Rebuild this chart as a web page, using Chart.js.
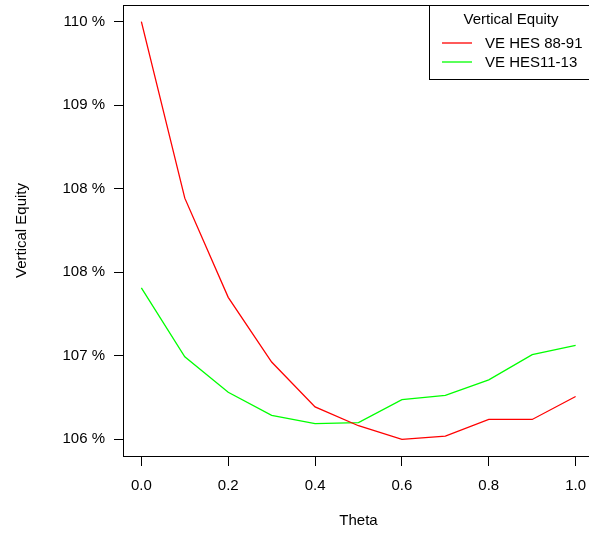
<!DOCTYPE html>
<html>
<head>
<meta charset="utf-8">
<script src="https://cdn.jsdelivr.net/npm/chart.js@4"></script>
<style>
html,body{margin:0;padding:0;overflow:hidden;background:#fff}
</style>
</head>
<body>
<canvas id="chart" width="593" height="535"></canvas>
<script>
const theta = [0.0,0.1,0.2,0.3,0.4,0.5,0.6,0.7,0.8,0.9,1.0]
const ve8891 = [1.1000,1.0831,1.0736,1.0674,1.0631,1.0613,1.0600,1.0603,1.0619,1.0619,1.0641]
const ve1113 = [1.0745,1.0679,1.0645,1.0623,1.0615,1.0616,1.0638,1.0642,1.0657,1.0681,1.0690]
const seriesNames = ['VE HES 88-91','VE HES11-13']
const seriesColors = ['#ff0000','#00ff00']
const yTicks = [1.06,1.068,1.076,1.084,1.092,1.10]
const yTickLabels = ['106 %','107 %','108 %','108 %','109 %','110 %']
const xTicks = [0,0.2,0.4,0.6,0.8,1.0]
const xTickLabels = ['0.0','0.2','0.4','0.6','0.8','1.0']
const legendTitle = 'Vertical Equity'

const FONT = 'Liberation Sans, Arial, sans-serif'
function pts(ys){ return theta.map((t,i)=>({x:t,y:ys[i]})) }

// R style box around plot + legend box
const boxPlugin = {
  id:'rbox',
  afterDraw(chart){
    const {ctx, chartArea:a} = chart
    ctx.save()
    ctx.strokeStyle = '#000'; ctx.lineWidth = 1
    ctx.strokeRect(Math.round(a.left)-0.5, Math.round(a.top)+0.5, Math.round(a.right-a.left)+1, Math.round(a.bottom-a.top))
    // legend
    const lx = 429.5, ly = Math.round(a.top)+0.5, lb = 79.5
    ctx.fillStyle = '#fff'
    ctx.fillRect(lx, ly, 700, lb-ly)
    ctx.strokeRect(lx, ly, 700, lb-ly)
    ctx.fillStyle = '#000'
    ctx.font = '15px ' + FONT
    ctx.textBaseline = 'middle'
    ctx.textAlign = 'center'
    ctx.fillText(legendTitle, 511, 20)
    ctx.textAlign = 'left'
    chart.data.datasets.forEach((ds,i)=>{
      const y = 43 + i*19
      ctx.strokeStyle = ds.borderColor; ctx.lineWidth = 1.3
      ctx.beginPath(); ctx.moveTo(442, y); ctx.lineTo(472, y); ctx.stroke()
      ctx.fillText(ds.label, 485, y+1)
    })
    ctx.restore()
  }
}

new Chart(document.getElementById('chart'), {
  type:'line',
  data:{ datasets:[
    { label:seriesNames[0], data:pts(ve8891), borderColor:seriesColors[0], borderWidth:1.3, pointRadius:0, fill:false, tension:0 },
    { label:seriesNames[1], data:pts(ve1113), borderColor:seriesColors[1], borderWidth:1.3, pointRadius:0, fill:false, tension:0 }
  ]},
  options:{
    responsive:false, animation:false,
    layout:{ padding:{ top:5, left:0, right:0, bottom:0 } },
    plugins:{ legend:{ display:false }, tooltip:{ enabled:false } },
    scales:{
      x:{
        type:'linear', min:-0.04, max:1.04,
        afterBuildTicks: s => { s.ticks = xTicks.map(v=>({value:v})) },
        afterFit: s => { s.height = 79; s.paddingLeft = 0; s.paddingRight = 0 },
        ticks:{ color:'#000', font:{ family:FONT, size:15 }, padding:11, maxRotation:0,
          callback:(v,i)=> xTickLabels[i] },
        grid:{ drawOnChartArea:false, drawTicks:true, tickLength:10, color:'#000' },
        border:{ display:false },
        title:{ display:true, text:'Theta', color:'#000', font:{ family:FONT, size:15 }, padding:{ top:0, bottom:5 } }
      },
      y:{
        min:1.0584, max:1.1016,
        afterBuildTicks: s => { s.ticks = yTicks.map(v=>({value:v})) },
        afterFit: s => { s.width = 124; s.paddingTop = 0; s.paddingBottom = 0 },
        ticks:{ color:'#000', font:{ family:FONT, size:15 }, padding:9,
          callback:(v,i)=> yTickLabels[i] },
        grid:{ drawOnChartArea:false, drawTicks:true, tickLength:10, color:'#000' },
        border:{ display:false },
        title:{ display:true, text:'Vertical Equity', color:'#000', font:{ family:FONT, size:15 }, padding:{ top:13, bottom:0 } }
      }
    }
  },
  plugins:[boxPlugin]
})
</script>
</body>
</html>
